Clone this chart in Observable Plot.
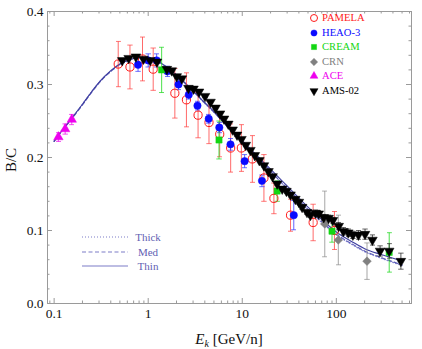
<!DOCTYPE html>
<html><head><meta charset="utf-8">
<script src="https://cdn.jsdelivr.net/npm/d3@7"></script>
<script src="https://cdn.jsdelivr.net/npm/@observablehq/plot@0.6"></script>
<style>
body{margin:0;background:#fff;}
#wrap{position:relative;width:422px;height:349px;font-family:"Liberation Serif","Times New Roman",serif;}
.lab{position:absolute;white-space:nowrap;line-height:1;}
</style></head><body><div id="wrap"></div>
<script>
// ---- data ----
const aceE   = [0.111, 0.131, 0.154];
const aceBC  = [0.228, 0.239, 0.252];
const aceErr = [0.006, 0.007, 0.007];

const pamelaE   = [0.48, 0.64, 0.87, 1.13, 1.92, 2.55, 3.39, 4.43, 5.76, 7.53, 9.78, 12.8, 17.0, 21.7, 32.6, 56.7, 95.5];
const pamelaBC  = [0.328, 0.324, 0.335, 0.321, 0.288, 0.279, 0.258, 0.248, 0.232, 0.213, 0.213, 0.198, 0.172, 0.144, 0.121, 0.111, 0.100];
const pamelaErr = [0.031, 0.030, 0.030, 0.029, 0.034, 0.037, 0.031, 0.029, 0.031, 0.033, 0.032, 0.032, 0.032, 0.021, 0.022, 0.025, 0.026];

const heaoE   = [0.78, 1.0, 1.23, 1.6, 2.1, 2.7, 3.34, 4.4, 5.7, 7.5, 10.6, 16.2, 35.3];
const heaoBC  = [0.327, 0.333, 0.333, 0.318, 0.300, 0.286, 0.271, 0.253, 0.241, 0.218, 0.195, 0.168, 0.121];
const heaoErr = [0.009, 0.009, 0.009, 0.007, 0.007, 0.006, 0.006, 0.006, 0.007, 0.008, 0.009, 0.008, 0.020];

const creamE   = [1.39, 5.66, 23.5, 90, 365];
const creamBC  = [0.320, 0.224, 0.154, 0.099, 0.070];
const creamErr = [0.031, 0.026, 0.014, 0.015, 0.027];

const crnE   = [75.4, 105, 212];
const crnBC  = [0.109, 0.087, 0.058];
const crnErr = [0.045, 0.034, 0.025];

const amsE  = [0.53, 0.62, 0.74, 0.89, 1.05, 1.24, 1.58, 1.78, 2.01, 2.28, 2.68, 3.03, 3.47, 4.02, 4.6, 5.2, 5.8, 6.4, 7.1, 7.9, 8.8, 9.8, 10.9, 12.2, 13.6, 15.2, 17.0, 19.0, 21.0, 23.5, 26.6, 29.5, 32.6, 36.7, 40, 43.3, 48.8, 53, 60, 65, 73.5, 82.7, 92, 106, 119, 134, 150, 172, 202, 242, 292, 365, 486];
const amsBC = [0.333, 0.336, 0.338, 0.335, 0.333, 0.331, 0.321, 0.319, 0.311, 0.308, 0.295, 0.294, 0.290, 0.284, 0.276, 0.268, 0.260, 0.253, 0.246, 0.238, 0.231, 0.225, 0.217, 0.210, 0.203, 0.196, 0.189, 0.181, 0.174, 0.164, 0.157, 0.154, 0.149, 0.143, 0.139, 0.132, 0.125, 0.121, 0.124, 0.123, 0.118, 0.117, 0.114, 0.106, 0.099, 0.097, 0.094, 0.094, 0.095, 0.087, 0.072, 0.072, 0.058];
const amsErr = [0.002, 0.002, 0.002, 0.002, 0.002, 0.002, 0.002, 0.002, 0.002, 0.002, 0.002, 0.002, 0.002, 0.002, 0.002, 0.002, 0.002, 0.002, 0.002, 0.002, 0.002, 0.002, 0.002, 0.002, 0.002, 0.002, 0.002, 0.002, 0.002, 0.002, 0.003, 0.003, 0.003, 0.003, 0.003, 0.003, 0.003, 0.003, 0.004, 0.004, 0.004, 0.004, 0.004, 0.005, 0.005, 0.005, 0.005, 0.006, 0.007, 0.007, 0.007, 0.010, 0.011];

const modelE     = [0.1, 0.12, 0.15, 0.2, 0.25, 0.3, 0.4, 0.5, 0.6, 0.8, 1, 1.3, 1.6, 2, 3, 4, 5, 7, 10, 15, 20, 30, 50, 70, 100, 150, 200, 300, 500];
const modelThin  = [0.222, 0.236, 0.252, 0.273, 0.290, 0.303, 0.319, 0.328, 0.333, 0.337, 0.336, 0.331, 0.323, 0.313, 0.291, 0.275, 0.263, 0.243, 0.223, 0.200, 0.184, 0.161, 0.132, 0.115, 0.098, 0.084, 0.075, 0.067, 0.058];
const modelMed   = [0.222, 0.236, 0.251, 0.272, 0.289, 0.302, 0.318, 0.328, 0.333, 0.337, 0.336, 0.331, 0.323, 0.313, 0.291, 0.275, 0.262, 0.242, 0.221, 0.198, 0.181, 0.158, 0.129, 0.112, 0.095, 0.081, 0.072, 0.063, 0.053];
const modelThick = [0.223, 0.237, 0.252, 0.273, 0.290, 0.303, 0.318, 0.327, 0.332, 0.336, 0.336, 0.331, 0.323, 0.313, 0.291, 0.274, 0.262, 0.242, 0.221, 0.198, 0.181, 0.157, 0.128, 0.111, 0.094, 0.080, 0.071, 0.062, 0.052];

const xMajor = [0.1, 1, 10, 100];
const xMinor = [0.09, 0.2, 0.3, 0.4, 0.5, 0.6, 0.7, 0.8, 0.9, 2, 3, 4, 5, 6, 7, 8, 9, 20, 30, 40, 50, 60, 70, 80, 90, 200, 300, 400, 500, 600];
const yMajor = [0, 0.1, 0.2, 0.3, 0.4];
const yMinor = [0.02, 0.04, 0.06, 0.08, 0.12, 0.14, 0.16, 0.18, 0.22, 0.24, 0.26, 0.28, 0.32, 0.34, 0.36, 0.38];

const seriesNames = ["PAMELA", "HEAO-3", "CREAM", "CRN", "ACE", "AMS-02"];
const lineNames = ["Thick", "Med", "Thin"];

// ---- styles ----
const W = 422, H = 349, mL = 47, mR = 11, mT = 11, mB = 46;
const pw = W - mL - mR, ph = H - mT - mB;
const frameCol = "#9a9a9a";
const lineCol = ["#8a8ad2", "#5c5cb8", "#3f3fa0"]; // thick, med, thin

const rows = (E, BC, err) => E.map((e, i) => ({E: e, BC: BC[i], lo: BC[i] - err[i], hi: BC[i] + err[i]}));
const series = [
  {data: rows(pamelaE, pamelaBC, pamelaErr), color: "#ff1a1a", bar: "#ff3b3b", symbol: "circle", fill: "none", r: 4.1, rotate: 0},
  {data: rows(heaoE, heaoBC, heaoErr), color: "#0a0aff", bar: "#3030ff", symbol: "circle", fill: "#0a0aff", r: 3.7, rotate: 0},
  {data: rows(creamE, creamBC, creamErr), color: "#13d613", bar: "#13d613", symbol: "square", fill: "#13d613", r: 3.5, rotate: 0},
  {data: rows(crnE, crnBC, crnErr), color: "#808080", bar: "#8a8a8a", symbol: "diamond2", fill: "#808080", r: 3.9, rotate: 0},
  {data: rows(aceE, aceBC, aceErr), color: "#ee00ee", bar: "#ee00ee", symbol: "triangle", fill: "#ee00ee", r: 3.5, rotate: 0},
  {data: rows(amsE, amsBC, amsErr), color: "#000000", bar: "#222", symbol: "triangle", fill: "#000000", r: 3.6, rotate: 180}
];
const model = modelE.map((e, i) => ({E: e, thin: modelThin[i], med: modelMed[i], thick: modelThick[i]}));

const marks = [
  Plot.frame({stroke: frameCol, strokeWidth: 1}),
  // inward ticks: bottom, top, left, right
  Plot.ruleX(xMajor, {stroke: frameCol, insetTop: ph - 5}),
  Plot.ruleX(xMinor, {stroke: frameCol, insetTop: ph - 2.5}),
  Plot.ruleX(xMajor, {stroke: frameCol, insetBottom: ph - 5}),
  Plot.ruleX(xMinor, {stroke: frameCol, insetBottom: ph - 2.5}),
  Plot.ruleY(yMajor, {stroke: frameCol, insetRight: pw - 5}),
  Plot.ruleY(yMinor, {stroke: frameCol, insetRight: pw - 2.5}),
  Plot.ruleY(yMajor, {stroke: frameCol, insetLeft: pw - 5}),
  Plot.ruleY(yMinor, {stroke: frameCol, insetLeft: pw - 2.5}),
  Plot.axisX({ticks: xMajor, tickSize: 0, tickPadding: 5, tickFormat: d => d3.format("~g")(d), label: null, fill: "#111"}),
  Plot.axisY({ticks: yMajor, tickSize: 0, tickPadding: 4, tickFormat: d3.format(".1f"), label: null, fill: "#111"}),
  // model curves
  Plot.line(model, {x: "E", y: "thick", stroke: lineCol[0], strokeWidth: 1.2, strokeDasharray: "1,2", curve: "monotone-x"}),
  Plot.line(model, {x: "E", y: "med", stroke: lineCol[1], strokeWidth: 1.1, strokeDasharray: "4,2.5", curve: "monotone-x"}),
  Plot.line(model, {x: "E", y: "thin", stroke: lineCol[2], strokeWidth: 1.1, curve: "monotone-x"})
];
for (const s of series) {
  marks.push(Plot.link(s.data, {x1: "E", x2: "E", y1: "lo", y2: "hi", stroke: s.bar, strokeWidth: 0.9, strokeOpacity: 0.85, markerStart: "tick", markerEnd: "tick"}));
}
for (const s of series) {
  marks.push(Plot.dot(s.data, {x: "E", y: "BC", symbol: s.symbol, r: s.r, rotate: s.rotate,
    fill: s.fill, stroke: s.color, strokeWidth: s.fill === "none" ? 1 : 0.5}));
}

const chart = Plot.plot({
  width: W, height: H, marginLeft: mL, marginRight: mR, marginTop: mT, marginBottom: mB,
  style: {fontFamily: "Liberation Serif, Times New Roman, serif", fontSize: "13.5px", background: "#fff", overflow: "visible"},
  x: {type: "log", domain: [0.085, 630], axis: null},
  y: {domain: [0, 0.4], axis: null},
  marks
});
const wrap = document.getElementById("wrap");
wrap.appendChild(chart);
const svgNS = "http://www.w3.org/2000/svg";

// axis titles
const xt = document.createElement("div");
xt.className = "lab";
xt.style.cssText = "left:229px;top:340px;transform:translate(-50%,-50%);font-size:15px;color:#111;";
xt.innerHTML = "<i>E</i><sub style='font-size:10px;font-style:italic;vertical-align:-3px'>k</sub> [GeV/n]";
wrap.appendChild(xt);
const yt = document.createElement("div");
yt.className = "lab";
yt.style.cssText = "left:11px;top:160px;transform:translate(-50%,-50%) rotate(-90deg);font-size:15px;color:#111;";
yt.textContent = "B/C";
wrap.appendChild(yt);

// data legend
const legY = [18, 33, 47, 62, 76, 91];
const types = {circle: d3.symbolCircle, square: d3.symbolSquare, diamond2: d3.symbolDiamond2, triangle: d3.symbolTriangle};
series.forEach((s, i) => {
  const svg = document.createElementNS(svgNS, "svg");
  svg.setAttribute("width", 12); svg.setAttribute("height", 12);
  svg.style.cssText = `position:absolute;left:${314 - 6}px;top:${legY[i] - 6}px;overflow:visible`;
  const size = Math.PI * (s.r - 0.6) * (s.r - 0.6);
  const p = document.createElementNS(svgNS, "path");
  p.setAttribute("d", d3.symbol(types[s.symbol], size)());
  p.setAttribute("transform", `translate(6,6) rotate(${s.rotate})`);
  p.setAttribute("fill", s.fill); p.setAttribute("stroke", s.color); p.setAttribute("stroke-width", s.fill === "none" ? 1 : 0.5);
  svg.appendChild(p);
  wrap.appendChild(svg);
  const t = document.createElement("div");
  t.className = "lab";
  t.style.cssText = `left:322px;top:${legY[i]}px;transform:translateY(-50%);font-size:10.6px;color:${s.color};`;
  t.textContent = seriesNames[i];
  wrap.appendChild(t);
});

// line legend
const lineY = [237, 252, 266];
const dashes = ["1,2", "4,2.5", null];
lineNames.forEach((n, i) => {
  const svg = document.createElementNS(svgNS, "svg");
  svg.setAttribute("width", 46); svg.setAttribute("height", 4);
  svg.style.cssText = `position:absolute;left:82px;top:${lineY[i] - 2}px;`;
  const l = document.createElementNS(svgNS, "line");
  l.setAttribute("x1", 0); l.setAttribute("x2", 46); l.setAttribute("y1", 2); l.setAttribute("y2", 2);
  l.setAttribute("stroke", "#7c7cc8"); l.setAttribute("stroke-width", 1.1);
  if (dashes[i]) l.setAttribute("stroke-dasharray", dashes[i]);
  svg.appendChild(l);
  wrap.appendChild(svg);
  const t = document.createElement("div");
  t.className = "lab";
  t.style.cssText = `left:148px;top:${lineY[i]}px;transform:translate(-50%,-50%);font-size:11px;color:#5f5fb3;`;
  t.textContent = n;
  wrap.appendChild(t);
});
</script></body></html>
